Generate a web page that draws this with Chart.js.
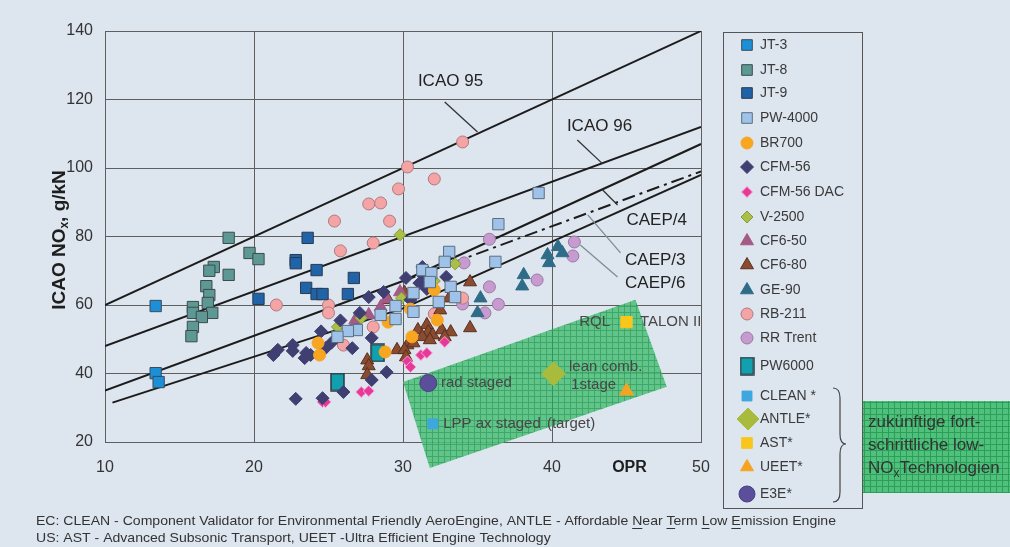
<!DOCTYPE html>
<html>
<head>
<meta charset="utf-8">
<script src="https://cdn.jsdelivr.net/npm/chart.js@4.4.1/dist/chart.umd.min.js"></script>
<style>
  html, body { margin: 0; padding: 0; background: #dde5ee; }
  canvas { display: block; }
</style>
</head>
<body>
<canvas id="chart" width="1010" height="547"></canvas>
<script>
// ---- data: [OPR, NOx g/kN] ----
const jt3 = [[13.4, 59.7], [13.4, 40.1], [13.6, 37.5]];
const jt8 = [[18.3, 79.6], [19.7, 75.2], [20.3, 73.4], [17.3, 71.1], [17.0, 70.0], [18.3, 68.8],
  [16.8, 65.5], [17.0, 62.9], [16.9, 60.6], [15.9, 59.4], [15.9, 57.7], [17.2, 57.7],
  [16.5, 56.5], [15.9, 53.6], [15.8, 50.9]];
const jt9 = [[20.3, 61.8], [23.6, 79.6], [22.8, 73.1], [22.8, 72.2], [24.2, 70.2], [26.7, 67.9],
  [23.5, 65.0], [24.2, 63.2], [24.6, 63.2], [26.3, 63.2]];
const pw4000 = [[39.1, 92.7], [36.4, 83.6], [33.1, 75.5], [32.8, 72.6], [36.2, 72.6], [31.3, 70.2],
  [31.9, 69.3], [31.8, 66.7], [33.2, 65.3], [33.5, 62.3], [30.7, 63.5], [32.4, 60.9],
  [30.7, 58.0], [29.5, 59.7], [29.5, 55.9], [28.5, 57.1], [26.9, 52.7], [26.3, 52.4], [25.6, 50.7]];
const br700 = [[29.0, 55.0], [28.8, 46.3], [24.3, 48.9], [24.4, 45.4], [32.1, 64.4], [30.5, 58.8],
  [32.3, 55.6], [30.6, 50.7]];
const cfm56 = [[21.3, 45.4], [21.6, 46.9], [22.6, 48.3], [22.6, 46.6], [23.4, 44.5], [23.5, 46.0],
  [23.8, 45.4], [24.5, 52.3], [24.8, 47.4], [25.2, 49.0], [25.8, 55.5], [26.6, 47.4],
  [27.1, 57.7], [27.9, 50.4], [27.7, 62.3], [28.7, 63.8], [28.9, 40.4], [27.9, 38.1],
  [26.0, 34.6], [22.8, 32.6], [24.6, 32.8], [30.2, 67.9], [30.5, 61.5], [31.3, 71.1],
  [31.3, 68.8], [31.1, 66.4], [31.6, 64.7], [32.9, 68.2]];
const cfm56dac = [[24.6, 31.7], [24.8, 31.7], [27.2, 34.6], [27.7, 34.9], [30.3, 43.5], [30.5, 41.9],
  [31.2, 45.4], [31.6, 46.0], [32.8, 49.2]];
const v2500 = [[29.8, 80.5], [25.6, 53.6], [27.2, 56.2], [29.9, 62.0], [33.5, 72.0], [32.1, 67.0]];
const cf650 = [[29.8, 63.8], [28.9, 61.8], [28.5, 59.4], [27.7, 57.1], [26.8, 55.6]];
const cf680 = [[30.1, 63.6], [29.0, 61.5], [34.5, 66.7], [33.1, 62.0], [32.5, 58.5], [31.6, 54.2],
  [31.0, 52.7], [31.7, 52.1], [32.0, 51.2], [32.6, 52.7], [33.2, 52.1], [32.8, 50.7],
  [31.3, 50.7], [34.5, 53.3], [31.8, 49.8], [30.3, 48.3], [30.7, 48.9], [29.6, 46.9],
  [30.1, 46.9], [30.2, 44.8], [27.6, 43.9], [27.7, 42.2], [27.6, 39.6]];
const ge90 = [[40.4, 77.0], [39.7, 74.6], [40.7, 75.2], [39.8, 72.3], [38.1, 68.8], [38.0, 65.5],
  [35.2, 62.0], [35.0, 57.7]];
const rb211 = [[34.0, 107.6], [30.3, 100.3], [32.1, 96.8], [29.7, 93.9], [27.7, 89.5], [28.5, 89.8],
  [25.4, 84.5], [29.1, 84.5], [28.0, 78.1], [25.8, 75.8], [21.5, 60.0], [25.0, 60.0],
  [25.0, 57.7], [28.0, 53.6], [26.0, 48.3], [34.0, 62.0], [32.1, 57.4]];
const rrTrent = [[35.8, 79.2], [41.5, 78.4], [41.4, 74.3], [39.0, 67.3], [35.8, 65.3], [36.4, 60.2],
  [35.5, 57.7], [34.1, 72.3], [34.0, 60.3]];
const pw6000 = [[28.3, 46.0], [25.6, 37.5]];
const clean = [[32.0, 25.3]];
const antle = [[40.1, 39.9]];
const ast = [[45.0, 55.0]];
const ueet = [[45.0, 34.9]];
const e3e = [[31.7, 37.2]];

// limit lines (end / break points)
const icao95 = [[10, 60], [50, 140]];
const icao96 = [[10, 48], [50, 112]];
const caep4 = [[10, 35], [30, 67], [50, 107]];
const caep4dash = [[30, 67], [50, 99]];
const caep6 = [[10.5, 31.5], [30, 59], [50, 98]];

// future low-NOx zone corners
const greenZone = [[30.0, 37.5], [45.6, 61.5], [47.7, 36.1], [31.8, 12.4]];

const xTicks = [10, 20, 30, 40, 50];
const yTicks = [20, 40, 60, 80, 100, 120, 140];

const FONT = "'Liberation Sans', Arial, sans-serif";

// tall box marker for PW6000
const pwBox = document.createElement('canvas');
pwBox.width = 15; pwBox.height = 19;
(function () {
  const g = pwBox.getContext('2d');
  g.fillStyle = '#13a0ae';
  g.fillRect(1, 1, 13, 17);
  g.strokeStyle = '#2d3a40';
  g.lineWidth = 1.5;
  g.strokeRect(1, 1, 13, 17);
})();

const series = [
  { label: 'JT-3', data: jt3, style: 'rect', r: 8, bg: '#1b8fd8', bd: '#3b4b5c' },
  { label: 'JT-8', data: jt8, style: 'rect', r: 8, bg: '#5e9895', bd: '#3b4b4c' },
  { label: 'JT-9', data: jt9, style: 'rect', r: 8, bg: '#1f63a8', bd: '#2c3a4c' },
  { label: 'PW-4000', data: pw4000, style: 'rect', r: 8, bg: '#9fc3e8', bd: '#5d6d80' },
  { label: 'BR700', data: br700, style: 'circle', r: 6, bg: '#f8a520', bd: '#f8a520' },
  { label: 'CFM-56', data: cfm56, style: 'rectRot', r: 6.5, bg: '#3f3f72', bd: '#3f3f72' },
  { label: 'CFM-56 DAC', data: cfm56dac, style: 'rectRot', r: 5.5, bg: '#e8389a', bd: '#f3a6cf' },
  { label: 'V-2500', data: v2500, style: 'rectRot', r: 6, bg: '#a9c044', bd: '#8a9a40' },
  { label: 'CF6-50', data: cf650, style: 'triangle', r: 7.5, bg: '#a35a86', bd: '#a35a86' },
  { label: 'CF6-80', data: cf680, style: 'triangle', r: 7.5, bg: '#8a4b30', bd: '#5a3020' },
  { label: 'GE-90', data: ge90, style: 'triangle', r: 7.5, bg: '#2f6c88', bd: '#2f6c88' },
  { label: 'RB-211', data: rb211, style: 'circle', r: 6, bg: '#f4a4a4', bd: '#b07a80' },
  { label: 'RR Trent', data: rrTrent, style: 'circle', r: 6, bg: '#c79bd0', bd: '#9a7aa5' },
  { label: 'PW6000', data: pw6000, style: pwBox, r: 9, bg: '#13a0ae', bd: '#2d3a40' },
  { label: 'CLEAN *', data: clean, style: 'rect', r: 7, bg: '#3ea7dd', bd: '#3ea7dd' },
  { label: 'ANTLE*', data: antle, style: 'rectRot', r: 12, bg: '#a9bb3c', bd: '#a9bb3c' },
  { label: 'AST*', data: ast, style: 'rect', r: 8, bg: '#f9c61b', bd: '#f9c61b' },
  { label: 'UEET*', data: ueet, style: 'triangle', r: 8, bg: '#f7a322', bd: '#f7a322' },
  { label: 'E3E*', data: e3e, style: 'circle', r: 8.5, bg: '#5b4e9b', bd: '#4a3e80' }
];

const toXY = arr => arr.map(p => ({ x: p[0], y: p[1] }));

const datasets = series.map(s => ({
  label: s.label,
  data: toXY(s.data),
  pointStyle: s.style,
  pointRadius: s.r,
  pointHoverRadius: s.r,
  backgroundColor: s.bg,
  borderColor: s.bd,
  pointBorderWidth: 1,
  showLine: false,
  order: 1
}));

[icao95, icao96, caep4, caep6].forEach(l => {
  datasets.push({ data: toXY(l), showLine: true, borderColor: '#1c1c1c', borderWidth: 2,
    pointRadius: 0, order: 5 });
});
datasets.push({ data: toXY(caep4dash), showLine: true, borderColor: '#1c1c1c', borderWidth: 2,
  borderDash: [13, 5, 3, 5], pointRadius: 0, order: 5 });

// annotation labels and leaders (data coordinates)
const lineLabels = [
  { t: 'ICAO 95', x: 31.0, y: 125.4 }, { t: 'ICAO 96', x: 41.0, y: 112.3 },
  { t: 'CAEP/4', x: 45.0, y: 84.8 }, { t: 'CAEP/3', x: 44.9, y: 73.1 }, { t: 'CAEP/6', x: 44.9, y: 66.4 }
];
const leaders = [
  [32.8, 119.3, 35.0, 110.5, '#333'], [41.7, 108.2, 43.4, 101.2, '#333'],
  [43.4, 93.6, 44.4, 89.2, '#333'], [42.4, 86.3, 44.6, 75.2, '#7f8c99'],
  [41.9, 77.5, 44.4, 68.2, '#7f8c99']
];
const zoneLabels = [
  { t: 'rad staged', x: 32.55, y: 37.2 }, { t: 'LPP ax staged', x: 32.7, y: 25.3 },
  { t: '(target)', x: 39.66, y: 25.3 }, { t: 'lean comb.', x: 41.14, y: 41.9 },
  { t: '1stage', x: 41.28, y: 36.6 }, { t: 'RQL', x: 43.9, y: 55.0, right: true },
  { t: 'TALON II', x: 45.9, y: 55.0 }
];

function greenPattern(ctx) {
  const p = document.createElement('canvas');
  p.width = 6; p.height = 6;
  const g = p.getContext('2d');
  g.fillStyle = '#50c07c';
  g.fillRect(0, 0, 6, 6);
  g.fillStyle = '#2a9f57';
  g.fillRect(0, 0, 6, 1);
  g.fillRect(0, 0, 1, 6);
  return ctx.createPattern(p, 'repeat');
}

function marker(ctx, s, x, y) {
  ctx.save();
  ctx.fillStyle = s.bg;
  ctx.strokeStyle = s.bd;
  ctx.lineWidth = 1;
  const r = s.r;
  if (typeof s.style !== 'string') {
    ctx.drawImage(s.style, x - s.style.width / 2, y - s.style.height / 2);
    ctx.restore();
    return;
  }
  ctx.beginPath();
  if (s.style === 'rect') {
    const h = r * Math.SQRT1_2;
    ctx.rect(x - h, y - h, 2 * h, 2 * h);
  } else if (s.style === 'rectRot') {
    ctx.moveTo(x - r, y); ctx.lineTo(x, y - r); ctx.lineTo(x + r, y); ctx.lineTo(x, y + r);
    ctx.closePath();
  } else if (s.style === 'triangle') {
    ctx.moveTo(x, y - r);
    ctx.lineTo(x + r * 0.866, y + r * 0.5);
    ctx.lineTo(x - r * 0.866, y + r * 0.5);
    ctx.closePath();
  } else {
    ctx.arc(x, y, r, 0, Math.PI * 2);
  }
  ctx.fill();
  ctx.stroke();
  ctx.restore();
}

const decorations = {
  id: 'decorations',
  beforeDraw(chart) {
    const ctx = chart.ctx;
    ctx.save();
    ctx.fillStyle = '#dde5ee';
    ctx.fillRect(0, 0, chart.width, chart.height);
    ctx.restore();
  },
  beforeDatasetsDraw(chart) {
    const ctx = chart.ctx, xs = chart.scales.x, ys = chart.scales.y;
    ctx.save();
    ctx.globalAlpha = 0.88;
    ctx.fillStyle = greenPattern(ctx);
    ctx.beginPath();
    greenZone.forEach((p, i) => {
      const px = xs.getPixelForValue(p[0]), py = ys.getPixelForValue(p[1]);
      if (i === 0) ctx.moveTo(px, py); else ctx.lineTo(px, py);
    });
    ctx.closePath();
    ctx.fill();
    ctx.restore();
  },
  afterDatasetsDraw(chart) {
    const ctx = chart.ctx, xs = chart.scales.x, ys = chart.scales.y;
    ctx.save();
    leaders.forEach(l => {
      ctx.strokeStyle = l[4];
      ctx.lineWidth = 1.3;
      ctx.beginPath();
      ctx.moveTo(xs.getPixelForValue(l[0]), ys.getPixelForValue(l[1]));
      ctx.lineTo(xs.getPixelForValue(l[2]), ys.getPixelForValue(l[3]));
      ctx.stroke();
    });
    ctx.fillStyle = '#222';
    ctx.font = '17px ' + FONT;
    ctx.textBaseline = 'middle';
    lineLabels.forEach(l => ctx.fillText(l.t, xs.getPixelForValue(l.x), ys.getPixelForValue(l.y)));
    ctx.fillStyle = '#474747';
    ctx.font = '15px ' + FONT;
    zoneLabels.forEach(l => {
      ctx.textAlign = l.right ? 'right' : 'left';
      ctx.fillText(l.t, xs.getPixelForValue(l.x), ys.getPixelForValue(l.y));
    });
    ctx.restore();
  },
  afterDraw(chart) {
    const ctx = chart.ctx, xs = chart.scales.x, ys = chart.scales.y;
    ctx.save();
    // axis titles
    ctx.fillStyle = '#1e1e1e';
    ctx.font = 'bold 16px ' + FONT;
    ctx.textBaseline = 'middle';
    ctx.textAlign = 'center';
    ctx.fillText('OPR', xs.getPixelForValue(45.2), 468);

    ctx.save();
    ctx.translate(60, 240);
    ctx.rotate(-Math.PI / 2);
    const big = 'bold 19px ' + FONT, small = 'bold 12px ' + FONT;
    ctx.font = big;
    const a = 'ICAO NO', c = ', g/kN';
    const wa = ctx.measureText(a).width, wc = ctx.measureText(c).width;
    ctx.font = small;
    const wb = ctx.measureText('x').width;
    let x0 = -(wa + wb + wc) / 2;
    ctx.textAlign = 'left';
    ctx.font = big; ctx.fillText(a, x0, 0);
    ctx.font = small; ctx.fillText('x', x0 + wa, 5);
    ctx.font = big; ctx.fillText(c, x0 + wa + wb, 0);
    ctx.restore();

    // legend
    ctx.strokeStyle = '#555';
    ctx.lineWidth = 1;
    ctx.strokeRect(723.5, 32.5, 139, 476);
    const rows = [45, 70, 93, 118, 143, 167, 192, 217, 241, 265, 290, 314, 338, 366, 396, 419, 443, 467, 494];
    ctx.font = '14px ' + FONT;
    ctx.textAlign = 'left';
    ctx.textBaseline = 'middle';
    series.forEach((s, i) => {
      const ls = Object.assign({}, s, { r: Math.min(s.r, s.style === 'rectRot' && s.r > 8 ? 11 : 7.5) });
      if (s.style === 'circle' && s.r > 8) ls.r = 8;
      marker(ctx, ls, s.r > 8 && s.style === 'rectRot' ? 748 : 747, rows[i]);
      ctx.fillStyle = '#3a3a3a';
      ctx.fillText(s.label, 760, rows[i]);
    });
    // brace
    ctx.strokeStyle = '#444';
    ctx.lineWidth = 1.2;
    ctx.beginPath();
    ctx.moveTo(833, 388);
    ctx.quadraticCurveTo(840, 388, 840, 398);
    ctx.lineTo(840, 434);
    ctx.quadraticCurveTo(840, 444, 846, 444);
    ctx.quadraticCurveTo(840, 444, 840, 454);
    ctx.lineTo(840, 492);
    ctx.quadraticCurveTo(840, 502, 833, 502);
    ctx.stroke();

    // side box
    ctx.fillStyle = greenPattern(ctx);
    ctx.fillRect(863, 401, 147, 92);
    ctx.fillStyle = '#333';
    ctx.font = '17px ' + FONT;
    ctx.fillText('zukünftige fort-', 868, 422);
    ctx.fillText('schrittliche low-', 868, 445);
    ctx.fillText('NO', 868, 468);
    const wNO = ctx.measureText('NO').width;
    ctx.font = '12px ' + FONT;
    ctx.fillText('x', 868 + wNO, 474);
    const wx = ctx.measureText('x').width;
    ctx.font = '17px ' + FONT;
    ctx.fillText('Technologien', 868 + wNO + wx, 468);

    // footnote
    ctx.fillStyle = '#333';
    ctx.font = "13px 'Liberation Sans Narrow', " + FONT;
    const l1 = 'EC: CLEAN - Component Validator for Environmental Friendly AeroEngine, ANTLE - Affordable Near Term Low Emission Engine';
    const l2 = 'US: AST - Advanced Subsonic Transport, UEET -Ultra Efficient Engine Technology';
    const sx = 800 / ctx.measureText(l1).width;
    ctx.save();
    ctx.translate(36, 0);
    ctx.scale(sx, 1);
    ctx.fillText(l1, 0, 521);
    ctx.fillText(l2, 0, 538);
    const pre = 'EC: CLEAN - Component Validator for Environmental Friendly AeroEngine, ANTLE - Affordable ';
    ctx.lineWidth = 1;
    ctx.strokeStyle = '#333';
    ['Near ', 'Term ', 'Low ', 'Emission'].reduce((p, w) => {
      const x1 = ctx.measureText(p).width, x2 = ctx.measureText(p + w[0]).width;
      ctx.beginPath();
      ctx.moveTo(x1, 528.5);
      ctx.lineTo(x2, 528.5);
      ctx.stroke();
      return p + w;
    }, pre);
    ctx.restore();
    ctx.restore();
  }
};

const axisFont = { family: FONT, size: 16 };

new Chart(document.getElementById('chart'), {
  type: 'scatter',
  data: { datasets },
  options: {
    responsive: false,
    animation: false,
    layout: { padding: { left: 0, top: 31, right: 309, bottom: 65 } },
    plugins: { legend: { display: false }, tooltip: { enabled: false } },
    scales: {
      x: {
        type: 'linear', min: xTicks[0], max: xTicks[xTicks.length - 1],
        afterBuildTicks: s => { s.ticks = xTicks.map(v => ({ value: v })); },
        afterFit: s => { s.height = 40; },
        ticks: { font: axisFont, color: '#333', padding: 16 },
        grid: { color: '#5e5e5e', lineWidth: 1, drawTicks: false },
        border: { color: '#5e5e5e' }
      },
      y: {
        type: 'linear', min: yTicks[0], max: yTicks[yTicks.length - 1],
        afterBuildTicks: s => { s.ticks = yTicks.map(v => ({ value: v })); },
        afterFit: s => { s.width = 105; },
        ticks: { font: axisFont, color: '#333', padding: 12 },
        grid: { color: '#5e5e5e', lineWidth: 1, drawTicks: false },
        border: { color: '#5e5e5e' }
      }
    }
  },
  plugins: [decorations]
});
</script>
</body>
</html>
